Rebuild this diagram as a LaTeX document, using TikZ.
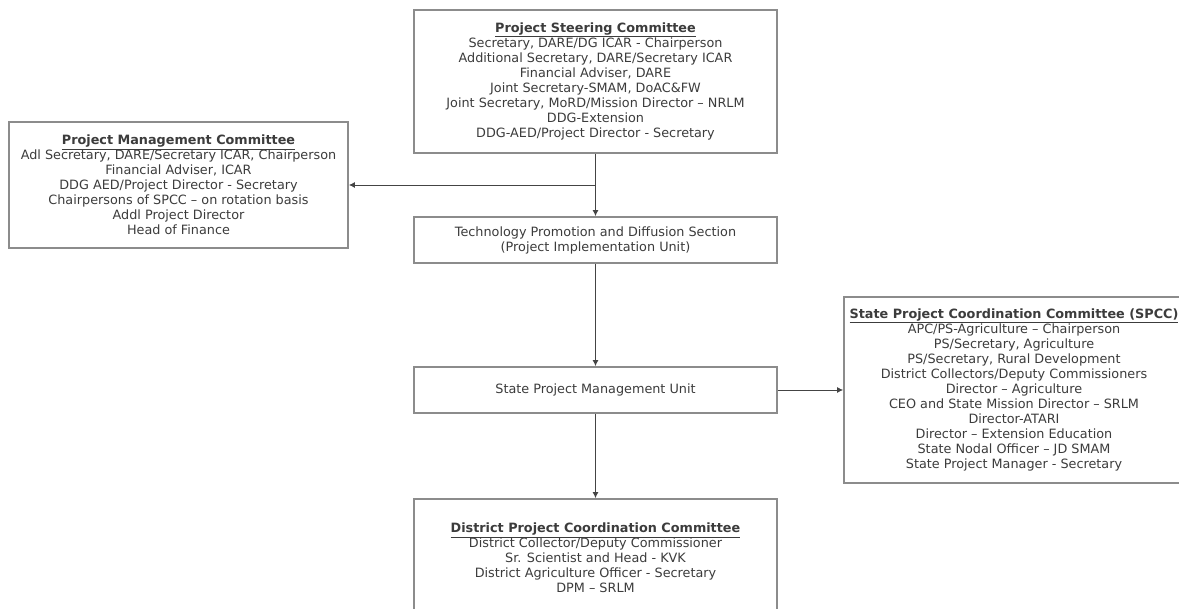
\documentclass[tikz,border=0pt]{standalone}
\usepackage{fontspec}
\usepackage{xcolor}
\usetikzlibrary{arrows.meta}
\setmainfont{DejaVu Sans}
\definecolor{boxgray}{HTML}{8C8C8C}
\definecolor{txtgray}{HTML}{3C3C3C}
\definecolor{linegray}{HTML}{444444}
\newcommand{\boxhead}[1]{\underline{\textbf{#1}}}

\begin{document}
\begin{tikzpicture}[
            x=1pt, y=1pt,
            unit/.style={draw=boxgray, line width=1.8pt, fill=white, inner sep=0pt,
                align=center, text=txtgray, font={\fontsize{12.8}{15}\selectfont}},
            link/.style={-{Latex[length=6pt,width=6pt]}, linegray, line width=0.9pt}
        ]
            \useasboundingbox (0,0) rectangle (1179,-609);

            \node[unit, minimum width=363pt, minimum height=143pt] (steer) at (595.5,-81.5)
                {\boxhead{Project Steering Committee}\\
                 Secretary, DARE/DG ICAR - Chairperson\\
                 Additional Secretary, DARE/Secretary ICAR\\
                 Financial Adviser, DARE\\
                 Joint Secretary-SMAM, DoAC\&FW\\
                 Joint Secretary, MoRD/Mission Director – NRLM\\
                 DDG-Extension\\
                 DDG-AED/Project Director - Secretary};
            \node[unit, minimum width=339pt, minimum height=126pt] (pmc) at (178.5,-185)
                {\boxhead{Project Management Committee}\\
                 Adl Secretary, DARE/Secretary ICAR, Chairperson\\
                 Financial Adviser, ICAR\\
                 DDG AED/Project Director - Secretary\\
                 Chairpersons of SPCC – on rotation basis\\
                 Addl Project Director\\
                 Head of Finance};
            \node[unit, minimum width=363pt, minimum height=46pt] (tpds) at (595.5,-240)
                {Technology Promotion and Diffusion Section\\
                 (Project Implementation Unit)};
            \node[unit, minimum width=363pt, minimum height=46pt] (spmu) at (595.5,-390)
                {State Project Management Unit};
            \node[unit, minimum width=340pt, minimum height=186pt] (spcc) at (1014,-390)
                {\boxhead{State Project Coordination Committee (SPCC)}\\
                 APC/PS-Agriculture – Chairperson\\
                 PS/Secretary, Agriculture\\
                 PS/Secretary, Rural Development\\
                 District Collectors/Deputy Commissioners\\
                 Director – Agriculture\\
                 CEO and State Mission Director – SRLM\\
                 Director-ATARI\\
                 Director – Extension Education\\
                 State Nodal Officer – JD SMAM\\
                 State Project Manager - Secretary};
            \node[unit, minimum width=363pt, minimum height=118pt] (dpcc) at (595.5,-558)
                {\boxhead{District Project Coordination Committee}\\
                 District Collector/Deputy Commissioner\\
                 Sr. Scientist and Head - KVK\\
                 District Agriculture Officer - Secretary\\
                 DPM – SRLM};

            \coordinate (split) at (steer.south |- pmc.east);
            \draw[link] (steer) -- (tpds);
            \draw[link] (split) -- (pmc.east);
            \draw[link] (tpds) -- (spmu);
            \draw[link] (spmu) -- (spcc);
            \draw[link] (spmu) -- (dpcc);
        \end{tikzpicture}
\end{document}
